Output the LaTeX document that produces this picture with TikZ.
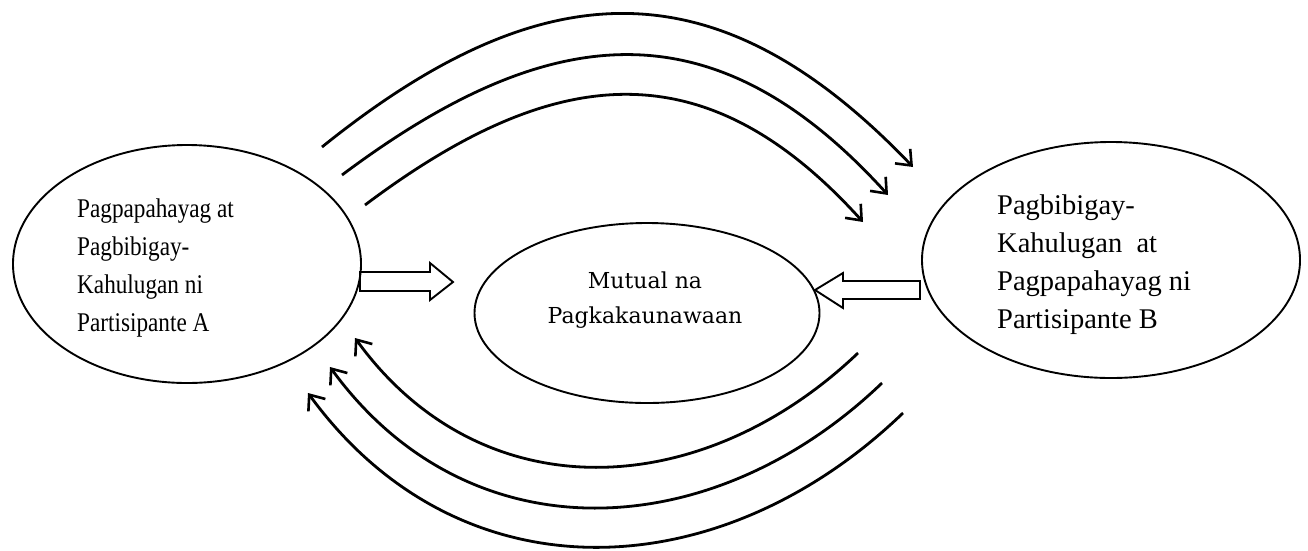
\documentclass[tikz,border=0pt]{standalone}
\usepackage{fontspec}
\setmainfont{Liberation Serif}
\newfontfamily\narrowfont[FakeStretch=0.86]{Liberation Serif}
\newfontfamily\mutualfont{DejaVu Serif}
\usetikzlibrary{shapes.geometric,arrows.meta}

\begin{document}
\begin{tikzpicture}[x=1pt, y=-1pt,
    bubble/.style={draw, ellipse, line width=1.9pt, inner sep=0pt},
    flow/.style={line width=2.8pt, -{Straight Barb[length=13pt, width=21pt, line width=2.6pt]}},
    fat/.style={draw, line width=1.9pt, line join=miter}]
    \useasboundingbox (0,0) rectangle (1308,550);

    \node[bubble, minimum width=348pt, minimum height=238pt] (partA) at (187,264) {};
    \node[bubble, minimum width=378pt, minimum height=236pt] (partB) at (1111,260) {};
    \node[bubble, minimum width=345pt, minimum height=180pt] (mutual) at (647,313) {};

    \node[anchor=west, align=left, inner sep=0pt, font=\narrowfont\fontsize{27}{38}\selectfont] (textA) at (77,268)
        {Pagpapahayag at\\Pagbibigay-\\Kahulugan ni\\Partisipante A};
    \node[anchor=west, align=left, inner sep=0pt, font=\fontsize{28.5}{38}\selectfont] (textB) at (997,265)
        {Pagbibigay-\\Kahulugan\ \ at\\Pagpapahayag ni\\Partisipante B};
    \node[align=center, inner sep=0pt, font=\mutualfont\fontsize{22}{35}\selectfont] (textM) at (645,300)
        {Mutual na\\Pagkakaunawaan};

    % block arrows
    \coordinate (outA) at (360,282);
    \coordinate (outB) at (920,290);
    \draw[fat] (outA) ++(0,-10) -- ++(70,0) -- ++(0,-9) -- ++(23,19) -- ++(-23,18) -- ++(0,-9) -- ++(-70,0) -- cycle;
    \draw[fat] (outB) ++(0,-9) -- ++(-77,0) -- ++(0,-8) -- ++(-28,17) -- ++(28,18) -- ++(0,-9) -- ++(77,0) -- cycle;

    % A to B
    \coordinate (a1) at (322,147);
    \coordinate (a2) at (342,175);
    \coordinate (a3) at (365,205);
    \coordinate (b1) at (913,167);
    \coordinate (b2) at (888,195);
    \coordinate (b3) at (863,222);
    \draw[flow] (a1) .. controls +(221,-178) and +(-195,-204) .. (b1);
    \draw[flow] (a2) .. controls +(207,-155) and +(-174,-192) .. (b2);
    \draw[flow] (a3) .. controls +(189,-142) and +(-158,-175) .. (b3);

    % B to A
    \coordinate (c1) at (858,353);
    \coordinate (c2) at (882,383);
    \coordinate (c3) at (903,413);
    \coordinate (d1) at (355,338);
    \coordinate (d2) at (330,367);
    \coordinate (d3) at (308,393);
    \draw[flow] (c1) .. controls +(-156,149) and +(127,175) .. (d1);
    \draw[flow] (c2) .. controls +(-170,163) and +(139,191) .. (d2);
    \draw[flow] (c3) .. controls +(-184,177) and +(151,207) .. (d3);
\end{tikzpicture}
\end{document}
